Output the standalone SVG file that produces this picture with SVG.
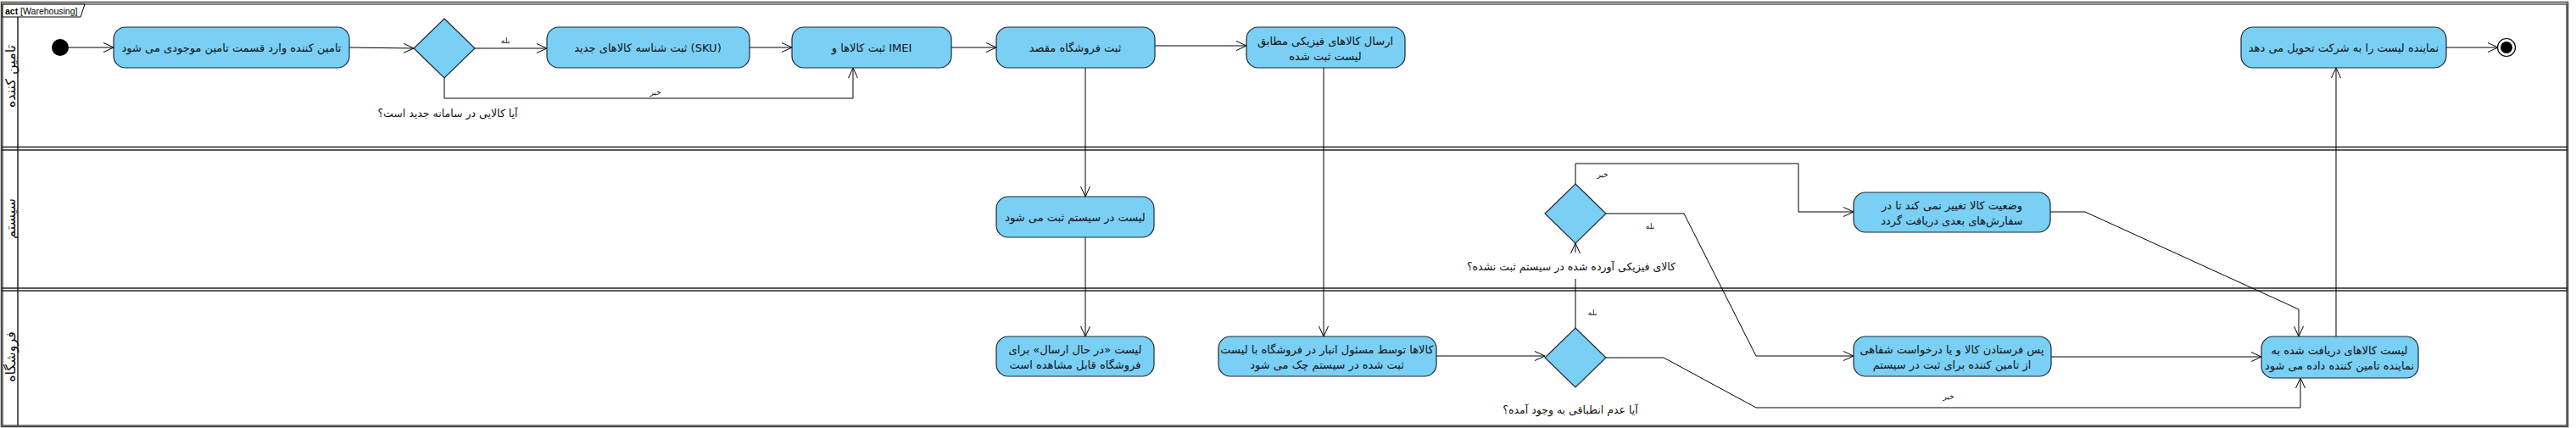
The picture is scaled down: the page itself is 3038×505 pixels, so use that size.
<svg xmlns="http://www.w3.org/2000/svg" width="3038" height="505" viewBox="0 0 3038 505">
<style>
.frame{fill:none;stroke:#444;stroke-width:1.5}
.sep{stroke:#222;stroke-width:1.5}
.node{fill:#7acff5;stroke:#1c2a33;stroke-width:1.2}
.t{font-family:'DejaVu Sans',sans-serif;font-size:13px;fill:#111;text-anchor:middle;dominant-baseline:central}
.lbl{font-family:'DejaVu Sans',sans-serif;font-size:12.5px;fill:#111;text-anchor:middle;dominant-baseline:central}
.g{font-family:'DejaVu Sans',sans-serif;font-size:9px;fill:#111;text-anchor:middle;dominant-baseline:central}
.lane{font-family:'DejaVu Sans',sans-serif;font-size:16px;fill:#111;text-anchor:middle;dominant-baseline:central}
.c{fill:none;stroke:#000;stroke-width:1;marker-end:url(#arr)}
</style>
<defs>
<marker id="arr" viewBox="0 0 12 12" refX="12" refY="6" markerWidth="12" markerHeight="12" markerUnits="userSpaceOnUse" orient="auto">
<path d="M0,0.5 L12,6 L0,11.5" fill="none" stroke="#000" stroke-width="1"/>
</marker>
</defs>
<rect x="0" y="0" width="3038" height="505" fill="#fff"/>
<g id="frame">
<rect class="frame" x="1.5" y="2.5" width="3027" height="501"/>
<rect x="3" y="5" width="3024" height="497" fill="none" stroke="#000" stroke-width="1"/>
<line class="sep" x1="21" y1="5" x2="21" y2="502" stroke-width="2"/>
<line class="sep" x1="2" y1="173.5" x2="3028" y2="173.5"/>
<line class="sep" x1="2" y1="177" x2="3028" y2="177"/>
<line class="sep" x1="2" y1="340" x2="3028" y2="340" stroke-width="2"/>
<line class="sep" x1="2" y1="343" x2="3028" y2="343"/>
<path d="M3,5 L100,5 L95,20 L3,20 Z" fill="#fff" stroke="#000" stroke-width="1"/>
<text x="6" y="13" font-family="'Liberation Sans',sans-serif" font-size="10.5" dominant-baseline="central"><tspan font-weight="bold">act</tspan> [Warehousing]</text>
<text class="lane" transform="translate(12,90) rotate(-90)">تامین کننده</text>
<text class="lane" transform="translate(12,258) rotate(-90)">سیستم</text>
<text class="lane" transform="translate(12,421) rotate(-90)">فروشگاه</text>
</g>
<g id="connectors">
<path class="c" d="M81,56 L134,56"/>
<path class="c" d="M412,56 L488,57"/>
<path class="c" d="M560,57 L645,57"/>
<path class="c" d="M524,92 L524,116 L1006,116 L1006,80"/>
<path class="c" d="M884,56 L934,56"/>
<path class="c" d="M1122,56 L1175,56"/>
<path class="c" d="M1362,54 L1470,54"/>
<path class="c" d="M1280,80 L1280,232"/>
<path class="c" d="M1280,280 L1280,397"/>
<path class="c" d="M1561,80 L1561,397"/>
<path class="c" d="M1694,420 L1822,420"/>
<path class="c" d="M1858,387 L1858,329 M1858,298 L1858,287"/>
<path class="c" d="M1858,217 L1858,193 L2121,193 L2121,250 L2186,250"/>
<path class="c" d="M1894,252 L1986,252 L2071,420 L2186,420"/>
<path class="c" d="M2418,250 L2459,250 L2711,365 L2711,397"/>
<path class="c" d="M1894,422 L1962,422 L2071,481 L2713,481 L2713,446"/>
<path class="c" d="M2419,421 L2667,421"/>
<path class="c" d="M2755,397 L2755,80"/>
<path class="c" d="M2885,56 L2946,56"/>
<text class="g" x="596" y="48">بله</text>
<text class="g" x="773" y="109">خیر</text>
<text class="g" x="1890" y="206">خیر</text>
<text class="g" x="1946" y="267">بله</text>
<text class="g" x="1878" y="369">بله</text>
<text class="g" x="2298" y="468">خیر</text>
</g>
<g id="initial"><circle cx="71" cy="56" r="10" fill="#000"/></g>
<g id="final"><circle cx="2956" cy="56" r="10.5" fill="#fff" stroke="#000" stroke-width="1.2"/><circle cx="2956" cy="56" r="7" fill="#000"/></g>
<g id="n1"><rect class="node" x="134" y="32" width="278" height="48" rx="14"/><text class="t" x="273" y="56">تامین کننده وارد قسمت تامین موجودی می شود</text></g>
<g id="d1"><polygon class="node" points="524,22 560,57 524,92 488,57"/><text class="lbl" x="528" y="133">آیا کالایی در سامانه جدید است؟</text></g>
<g id="n2"><rect class="node" x="645" y="32" width="239" height="48" rx="14"/><text class="t" x="764" y="56">ثبت شناسه کالاهای جدید (SKU)</text></g>
<g id="n3"><rect class="node" x="934" y="32" width="188" height="48" rx="14"/><text class="t" x="1028" y="56">ثبت کالاها و IMEI</text></g>
<g id="n4"><rect class="node" x="1175" y="32" width="187" height="48" rx="14"/><text class="t" x="1268" y="56">ثبت فروشگاه مقصد</text></g>
<g id="n5"><rect class="node" x="1470" y="32" width="187" height="48" rx="14"/><text class="t" x="1563" y="48">ارسال کالاهای فیزیکی مطابق</text><text class="t" x="1563" y="66">لیست ثبت شده</text></g>
<g id="n6"><rect class="node" x="2643" y="32" width="242" height="48" rx="14"/><text class="t" x="2764" y="56">نماینده لیست را به شرکت تحویل می دهد</text></g>
<g id="s1"><rect class="node" x="1175" y="232" width="186" height="48" rx="14"/><text class="t" x="1268" y="256">لیست در سیستم ثبت می شود</text></g>
<g id="d2"><polygon class="node" points="1858,217 1894,252 1858,287 1822,252"/><text class="lbl" x="1853" y="314">کالای فیزیکی آورده شده در سیستم ثبت نشده؟</text></g>
<g id="s2"><rect class="node" x="2186" y="227" width="232" height="47" rx="14"/><text class="t" x="2302" y="242">وضعیت کالا تغییر نمی کند تا در</text><text class="t" x="2302" y="260">سفارش‌های بعدی دریافت گردد</text></g>
<g id="f1"><rect class="node" x="1175" y="397" width="186" height="47" rx="14"/><text class="t" x="1268" y="412">لیست «در حال ارسال» برای</text><text class="t" x="1268" y="430">فروشگاه قابل مشاهده است</text></g>
<g id="f2"><rect class="node" x="1437" y="397" width="257" height="47" rx="14"/><text class="t" x="1565" y="412">کالاها توسط مسئول انبار در فروشگاه با لیست</text><text class="t" x="1565" y="430">ثبت شده در سیستم چک می شود</text></g>
<g id="d3"><polygon class="node" points="1858,387 1894,422 1858,457 1822,422"/><text class="lbl" x="1852" y="483">آیا عدم انطباقی به وجود آمده؟</text></g>
<g id="f3"><rect class="node" x="2186" y="397" width="233" height="47" rx="14"/><text class="t" x="2302" y="412">پس فرستادن کالا و یا درخواست شفاهی</text><text class="t" x="2302" y="430">از تامین کننده برای ثبت در سیستم</text></g>
<g id="f4"><rect class="node" x="2667" y="397" width="185" height="49" rx="14"/><text class="t" x="2759" y="413">لیست کالاهای دریافت شده به</text><text class="t" x="2759" y="431">نماینده تامین کننده داده می شود</text></g>
</svg>
